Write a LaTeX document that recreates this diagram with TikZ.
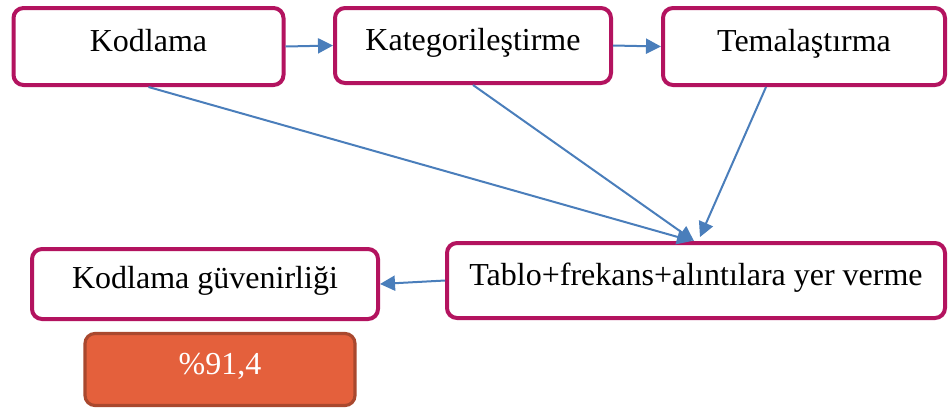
\documentclass[tikz,border=0pt]{standalone}
\usepackage{fontspec}
\setmainfont{Liberation Serif}
\usepackage{tikz}
\usetikzlibrary{arrows.meta}
\definecolor{kenar}{HTML}{B3135F}
\definecolor{ok}{HTML}{4A7EBB}
\definecolor{turuncu}{HTML}{E4603C}
\definecolor{koyuturuncu}{HTML}{A9482E}

\begin{document}
\begin{tikzpicture}[inner sep=0pt,
  kutu/.style={draw=kenar, line width=2pt, rounded corners=5pt, fill=white,
    font=\fontsize{16}{19}\selectfont, text height=0.7em, text depth=0.25em},
  sonuc/.style={draw=koyuturuncu, line width=1.6pt, rounded corners=5pt, fill=turuncu,
    text=white, font=\fontsize{16}{19}\selectfont, text height=0.7em, text depth=0.25em},
  akis/.style={draw=ok, line width=1pt, -{Triangle[length=7.5pt,width=7.5pt]}}]
\def\px{0.5pt}
\useasboundingbox (0, 0) rectangle (949*\px, -409*\px);

\node[kutu, minimum width=135pt, minimum height=38.5pt] (kod) at (148.5*\px, -46.5*\px) {Kodlama};
\node[kutu, minimum width=138pt, minimum height=37.5pt] (kat) at (473*\px, -45.5*\px) {Kategorileştirme};
\node[kutu, minimum width=141pt, minimum height=38.5pt] (tema) at (804*\px, -46.5*\px) {Temalaştırma};

\node[kutu, minimum width=249pt, minimum height=37.5pt] (tab) at (696*\px, -280.5*\px) {Tablo+frekans+alıntılara yer verme};
\node[kutu, minimum width=173pt, minimum height=35pt] (guv) at (205*\px, -284*\px) {Kodlama güvenirliği};
\node[sonuc, minimum width=135pt, minimum height=36pt] (oran) at (220*\px, -369.5*\px) {\%91,4};

\draw[akis] (kod.east) -- (kat.west);
\draw[akis] (kat.east) -- (tema.west);
\draw[akis] (kod.south) -- ([xshift=-2pt]tab.north);
\draw[akis] (kat.south) -- ([xshift=-1pt]tab.north);
\draw[akis] ([xshift=-19pt]tema.south) -- ([xshift=2pt,yshift=2pt]tab.north);
\draw[akis] (tab.west) -- (guv.east);
\end{tikzpicture}
\end{document}
